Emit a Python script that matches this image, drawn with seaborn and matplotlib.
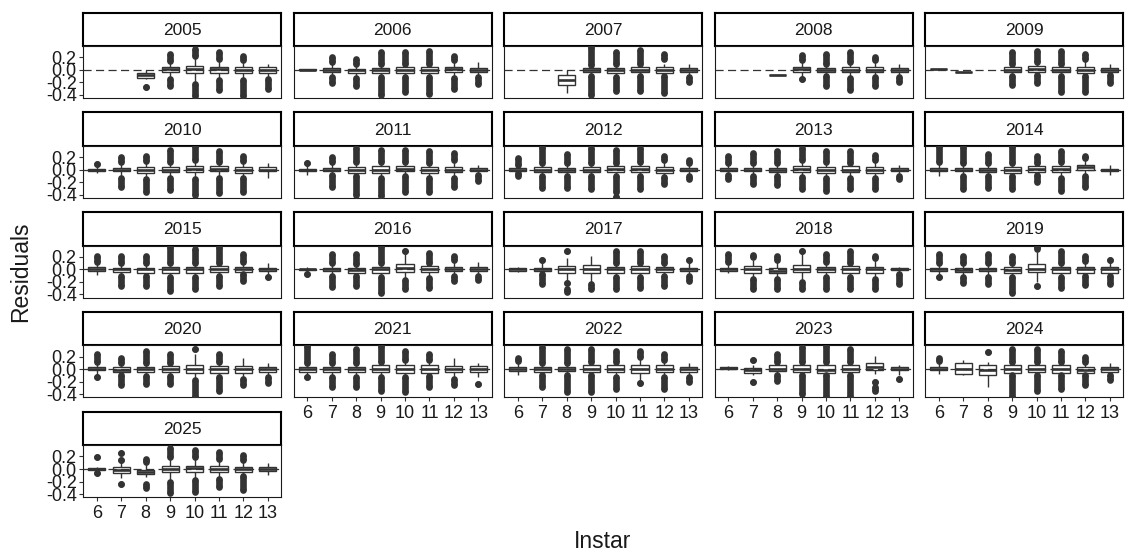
import matplotlib
matplotlib.use("Agg")
import pandas as pd
import matplotlib.pyplot as plt
import seaborn as sns

# --- Data ---
YEARS = list(range(2005, 2026))
INSTARS = [6, 7, 8, 9, 10, 11, 12, 13]

# box stats per instar: (lower whisker, q1, median, q3, upper whisker), None = no fish
b2005 = [None, None, (-0.14, -0.125, -0.09, -0.055, -0.01), (-0.12, -0.03, 0.01, 0.05, 0.12),
         (-0.2, -0.055, 0.01, 0.065, 0.2), (-0.15, -0.045, 0.005, 0.05, 0.15),
         (-0.15, -0.055, -0.005, 0.04, 0.13), (-0.12, -0.045, 0.0, 0.04, 0.09)]
b2006 = [(-0.01, -0.005, 0.0, 0.005, 0.01), (-0.09, -0.03, 0.0, 0.03, 0.09), (-0.11, -0.055, -0.01, 0.02, 0.07),
         (-0.1, -0.045, -0.005, 0.03, 0.08), (-0.1, -0.045, 0.0, 0.04, 0.08), (-0.1, -0.055, -0.01, 0.04, 0.08),
         (-0.11, -0.03, 0.01, 0.05, 0.12), (-0.09, -0.03, 0.0, 0.03, 0.12)]
b2007 = [None, None, (-0.37, -0.25, -0.155, -0.09, 0.0), (-0.08, -0.03, 0.0, 0.03, 0.05),
         (-0.09, -0.05, -0.01, 0.03, 0.08), (-0.08, -0.04, 0.0, 0.04, 0.08),
         (-0.08, -0.05, -0.01, 0.04, 0.1), (-0.09, -0.03, 0.0, 0.03, 0.1)]
b2008 = [None, None, (-0.09, -0.088, -0.085, -0.082, -0.08), (-0.1, -0.03, 0.01, 0.045, 0.12),
         (-0.08, -0.04, 0.0, 0.03, 0.08), (-0.11, -0.04, 0.0, 0.05, 0.1),
         (-0.1, -0.04, 0.0, 0.04, 0.12), (-0.09, -0.03, 0.0, 0.03, 0.1)]
b2009 = [(0.01, 0.012, 0.015, 0.018, 0.02), (-0.045, -0.042, -0.04, -0.038, -0.035), None,
         (-0.08, -0.04, 0.0, 0.04, 0.08), (-0.07, -0.03, 0.02, 0.055, 0.1), (-0.08, -0.04, 0.0, 0.045, 0.08),
         (-0.08, -0.05, 0.0, 0.05, 0.15), (-0.07, -0.03, 0.0, 0.03, 0.1)]
b2010 = [(-0.05, -0.015, 0.0, 0.015, 0.06), (-0.11, -0.03, 0.0, 0.03, 0.1), (-0.13, -0.055, 0.0, 0.04, 0.11),
         (-0.11, -0.045, 0.0, 0.04, 0.1), (-0.13, -0.045, 0.005, 0.055, 0.13), (-0.11, -0.03, 0.01, 0.055, 0.1),
         (-0.11, -0.055, 0.0, 0.04, 0.11), (-0.14, -0.03, 0.0, 0.04, 0.11)]
b2011 = [(-0.09, -0.015, 0.0, 0.015, 0.06), (-0.07, -0.03, 0.0, 0.03, 0.1), (-0.09, -0.055, 0.0, 0.04, 0.1),
         (-0.11, -0.055, 0.0, 0.05, 0.1), (-0.09, -0.03, 0.01, 0.055, 0.1), (-0.11, -0.055, 0.0, 0.04, 0.09),
         (-0.11, -0.045, 0.0, 0.04, 0.13), (-0.07, -0.03, 0.0, 0.03, 0.08)]
b2012 = [(-0.03, -0.02, 0.0, 0.02, 0.05), (-0.08, -0.04, 0.0, 0.04, 0.08), (-0.08, -0.04, 0.0, 0.03, 0.08),
         (-0.08, -0.04, 0.0, 0.04, 0.08), (-0.08, -0.04, 0.005, 0.05, 0.08), (-0.08, -0.04, 0.01, 0.055, 0.1),
         (-0.1, -0.05, -0.005, 0.04, 0.13), (-0.08, -0.03, 0.0, 0.03, 0.09)]
b2013 = [(-0.06, -0.02, 0.0, 0.03, 0.08), (-0.08, -0.03, 0.0, 0.03, 0.08), (-0.08, -0.04, 0.0, 0.03, 0.08),
         (-0.1, -0.04, 0.01, 0.06, 0.13), (-0.11, -0.05, 0.0, 0.04, 0.1), (-0.11, -0.04, 0.0, 0.05, 0.08),
         (-0.11, -0.05, 0.0, 0.04, 0.13), (-0.08, -0.02, 0.0, 0.02, 0.07)]
b2014 = [(-0.1, -0.02, 0.0, 0.03, 0.1), (-0.08, -0.03, 0.0, 0.03, 0.08), (-0.08, -0.04, -0.005, 0.03, 0.08),
         (-0.08, -0.05, 0.0, 0.04, 0.08), (-0.07, -0.04, 0.01, 0.055, 0.08), (-0.11, -0.04, 0.01, 0.055, 0.1),
         (-0.08, 0.0, 0.035, 0.07, 0.15), (-0.08, -0.015, 0.0, 0.015, 0.08)]
b2015 = [(-0.09, -0.02, 0.01, 0.04, 0.1), (-0.08, -0.04, 0.0, 0.03, 0.08), (-0.08, -0.05, 0.0, 0.03, 0.08),
         (-0.1, -0.05, 0.0, 0.04, 0.08), (-0.1, -0.05, 0.0, 0.04, 0.08), (-0.08, -0.04, 0.01, 0.055, 0.08),
         (-0.06, -0.04, 0.0, 0.04, 0.1), (-0.08, -0.02, 0.0, 0.03, 0.1)]
b2016 = [(-0.04, -0.01, 0.0, 0.01, 0.04), (-0.08, -0.03, 0.0, 0.03, 0.08), (-0.08, -0.05, -0.01, 0.03, 0.06),
         (-0.1, -0.05, 0.0, 0.04, 0.08), (-0.15, -0.04, 0.02, 0.08, 0.26), (-0.11, -0.04, 0.0, 0.05, 0.08),
         (-0.08, -0.03, 0.0, 0.04, 0.13), (-0.08, -0.02, 0.0, 0.04, 0.12)]
b2017 = [(-0.04, -0.02, 0.0, 0.02, 0.04), (-0.06, -0.03, 0.0, 0.03, 0.1), (-0.17, -0.065, 0.0, 0.06, 0.19),
         (-0.2, -0.05, 0.01, 0.07, 0.22), (-0.1, -0.05, 0.0, 0.04, 0.08), (-0.1, -0.05, 0.0, 0.05, 0.08),
         (-0.08, -0.04, 0.0, 0.04, 0.08), (-0.08, -0.02, 0.0, 0.03, 0.1)]
b2018 = [(-0.06, -0.02, 0.0, 0.03, 0.1), (-0.13, -0.05, 0.0, 0.055, 0.15), (-0.13, -0.065, -0.02, 0.015, 0.13),
         (-0.18, -0.04, 0.01, 0.07, 0.26), (-0.1, -0.04, 0.0, 0.04, 0.1), (-0.1, -0.05, 0.0, 0.05, 0.08),
         (-0.13, -0.05, 0.0, 0.04, 0.15), (-0.06, -0.01, 0.0, 0.025, 0.04)]
b2019 = [(-0.1, -0.02, 0.0, 0.03, 0.08), (-0.1, -0.04, -0.01, 0.03, 0.08), (-0.1, -0.03, 0.0, 0.03, 0.08),
         (-0.1, -0.05, -0.005, 0.04, 0.08), (-0.2, -0.04, 0.01, 0.08, 0.28), (-0.1, -0.05, 0.0, 0.04, 0.08),
         (-0.1, -0.05, 0.0, 0.04, 0.11), (-0.1, -0.05, 0.0, 0.04, 0.13)]
b2020 = [(-0.1, -0.02, 0.0, 0.03, 0.1), (-0.08, -0.04, -0.01, 0.03, 0.08), (-0.1, -0.04, 0.0, 0.04, 0.08),
         (-0.1, -0.04, 0.0, 0.05, 0.08), (-0.16, -0.055, 0.005, 0.07, 0.24), (-0.1, -0.055, 0.0, 0.05, 0.1),
         (-0.13, -0.055, 0.0, 0.05, 0.18), (-0.1, -0.045, 0.0, 0.04, 0.1)]
b2021 = [(-0.09, -0.04, 0.0, 0.04, 0.08), (-0.1, -0.045, 0.0, 0.04, 0.08), (-0.1, -0.04, 0.0, 0.04, 0.08),
         (-0.1, -0.04, 0.01, 0.06, 0.1), (-0.1, -0.055, 0.0, 0.06, 0.13), (-0.1, -0.055, 0.0, 0.06, 0.13),
         (-0.13, -0.045, 0.0, 0.055, 0.18), (-0.12, -0.04, 0.0, 0.055, 0.1)]
b2022 = [(-0.09, -0.03, 0.0, 0.03, 0.1), (-0.09, -0.04, 0.0, 0.04, 0.08), (-0.08, -0.03, 0.0, 0.04, 0.08),
         (-0.08, -0.045, 0.0, 0.06, 0.1), (-0.1, -0.045, 0.0, 0.06, 0.1), (-0.2, -0.055, 0.01, 0.07, 0.18),
         (-0.1, -0.045, 0.0, 0.06, 0.13), (-0.1, -0.04, 0.0, 0.04, 0.1)]
b2023 = [(-0.01, 0.0, 0.02, 0.04, 0.05), (-0.1, -0.065, -0.02, 0.015, 0.07), (-0.1, -0.035, 0.01, 0.06, 0.1),
         (-0.07, -0.045, 0.0, 0.06, 0.1), (-0.07, -0.055, -0.01, 0.06, 0.1), (-0.07, -0.045, 0.01, 0.07, 0.1),
         (-0.07, -0.02, 0.04, 0.1, 0.21), (-0.1, -0.02, 0.0, 0.04, 0.07)]
b2024 = [(-0.07, -0.02, 0.0, 0.03, 0.1), (-0.09, -0.08, 0.01, 0.1, 0.15), (-0.29, -0.09, -0.02, 0.07, 0.12),
         (-0.07, -0.055, 0.0, 0.06, 0.1), (-0.07, -0.045, 0.005, 0.06, 0.1), (-0.09, -0.055, 0.0, 0.06, 0.1),
         (-0.09, -0.055, -0.01, 0.04, 0.1), (-0.07, -0.04, 0.0, 0.04, 0.1)]
b2025 = [(-0.03, -0.015, 0.0, 0.015, 0.03), (-0.15, -0.07, -0.02, 0.03, 0.1), (-0.12, -0.08, -0.04, -0.015, 0.08),
         (-0.17, -0.055, 0.0, 0.055, 0.16), (-0.15, -0.055, 0.01, 0.055, 0.16), (-0.14, -0.055, 0.0, 0.055, 0.13),
         (-0.09, -0.04, 0.0, 0.035, 0.11), (-0.1, -0.025, 0.0, 0.025, 0.09)]

# outliers per instar: runs of stacked points (first, last); a single point has first == last
o2005 = [[], [], [(-0.27, -0.27)], [(0.14, 0.26), (-0.14, -0.26)], [(0.22, 0.34), (-0.22, -0.42)],
         [(0.17, 0.29), (-0.17, -0.33)], [(0.16, 0.22), (-0.17, -0.42)], [(-0.14, -0.3)]]
o2006 = [[], [(0.12, 0.2), (-0.11, -0.21)], [(0.09, 0.17), (-0.13, -0.26)], [(0.1, 0.29), (-0.12, -0.4)],
         [(0.1, 0.28), (-0.12, -0.35)], [(0.1, 0.3), (-0.12, -0.38)], [(0.15, 0.22), (-0.13, -0.3)], [(-0.12, -0.22)]]
o2007 = [[], [], [], [(0.07, 0.37), (-0.1, -0.4)], [(0.1, 0.29), (-0.11, -0.34)],
         [(0.1, 0.31), (-0.1, -0.34)], [(0.17, 0.26), (-0.1, -0.37)], [(-0.12, -0.2)]]
o2008 = [[], [], [], [(0.15, 0.23), (-0.15, -0.15)], [(0.1, 0.26), (-0.1, -0.26)],
         [(0.12, 0.29), (-0.13, -0.32)], [(0.15, 0.2), (-0.12, -0.26)], [(-0.12, -0.2)]]
o2009 = [[], [], [], [(0.1, 0.29), (-0.1, -0.24)], [(0.12, 0.3), (-0.09, -0.21)],
         [(0.1, 0.3), (-0.1, -0.35)], [(0.17, 0.26), (-0.1, -0.35)], [(-0.09, -0.21)]]
o2010 = [[(0.09, 0.09)], [(0.12, 0.2), (-0.13, -0.27)], [(0.13, 0.22), (-0.15, -0.35)], [(0.12, 0.31), (-0.13, -0.32)],
         [(0.15, 0.37), (-0.15, -0.4)], [(0.12, 0.3), (-0.13, -0.37)], [(0.13, 0.22), (-0.13, -0.35)], []]
o2011 = [[(0.11, 0.11)], [(0.12, 0.2), (-0.09, -0.27)], [(0.12, 0.35), (-0.11, -0.4)], [(0.12, 0.31), (-0.13, -0.42)],
         [(0.12, 0.31), (-0.11, -0.35)], [(0.11, 0.29), (-0.13, -0.35)], [(0.15, 0.26), (-0.13, -0.27)], [(-0.09, -0.18)]]
o2012 = [[(0.07, 0.19), (-0.05, -0.1)], [(0.1, 0.36), (-0.1, -0.29)], [(0.1, 0.25), (-0.1, -0.29)],
         [(0.1, 0.35), (-0.1, -0.31)], [(0.1, 0.32), (-0.1, -0.36), (-0.43, -0.43)], [(0.12, 0.35), (-0.1, -0.31)],
         [(0.15, 0.22), (-0.12, -0.23)], [(0.11, 0.15), (-0.1, -0.15)]]
o2013 = [[(0.1, 0.21), (-0.08, -0.15)], [(0.1, 0.26), (-0.1, -0.23)], [(0.1, 0.29), (-0.1, -0.25)],
         [(0.15, 0.35), (-0.12, -0.31)], [(0.12, 0.29), (-0.13, -0.34)], [(0.1, 0.29), (-0.13, -0.31)],
         [(0.15, 0.23), (-0.13, -0.31)], [(-0.1, -0.15)]]
o2014 = [[(0.12, 0.37)], [(0.1, 0.36), (-0.1, -0.31)], [(0.1, 0.25), (-0.1, -0.29)], [(0.1, 0.37), (-0.1, -0.31)],
         [(0.1, 0.22), (-0.09, -0.2)], [(0.12, 0.29), (-0.13, -0.34)], [(0.18, 0.22), (-0.1, -0.27)], []]
o2015 = [[(0.12, 0.21)], [(0.1, 0.21), (-0.1, -0.27)], [(0.1, 0.21), (-0.1, -0.27)], [(0.1, 0.35), (-0.12, -0.34)],
         [(0.1, 0.32), (-0.12, -0.31)], [(0.1, 0.35), (-0.1, -0.26)], [(0.12, 0.25), (-0.08, -0.18)], [(-0.12, -0.12)]]
o2016 = [[(-0.08, -0.08)], [(0.1, 0.24), (-0.1, -0.28)], [(0.08, 0.25), (-0.1, -0.26)], [(0.1, 0.37), (-0.12, -0.37)],
         [(0.29, 0.29), (-0.17, -0.31)], [(0.1, 0.26), (-0.13, -0.3)], [(0.15, 0.22), (-0.1, -0.19)], [(-0.1, -0.17)]]
o2017 = [[], [(0.15, 0.15), (-0.08, -0.23)], [(0.3, 0.3), (-0.22, -0.22), (-0.31, -0.36)], [(-0.23, -0.31)],
         [(0.1, 0.29), (-0.12, -0.31)], [(0.1, 0.29), (-0.12, -0.29)], [(0.1, 0.22), (-0.1, -0.27)],
         [(0.15, 0.15), (-0.1, -0.18)]]
o2018 = [[(0.12, 0.24)], [(0.2, 0.23), (-0.15, -0.31)], [(0.15, 0.21), (-0.15, -0.31)], [(0.3, 0.3), (-0.2, -0.32)],
         [(0.12, 0.24), (-0.12, -0.31)], [(0.1, 0.29), (-0.12, -0.31)], [(0.18, 0.22), (-0.15, -0.31)],
         [(-0.08, -0.23)]]
o2019 = [[(0.1, 0.24), (-0.12, -0.12)], [(0.1, 0.22), (-0.12, -0.21)], [(0.1, 0.25), (-0.12, -0.23)],
         [(0.1, 0.22), (-0.12, -0.37)], [(0.32, 0.37), (-0.27, -0.27)], [(0.1, 0.29), (-0.12, -0.3)],
         [(0.13, 0.22), (-0.1, -0.25)], [(0.15, 0.15), (-0.1, -0.23)]]
o2020 = [[(0.12, 0.24), (-0.12, -0.12)], [(0.1, 0.18), (-0.1, -0.26)], [(0.1, 0.29), (-0.11, -0.24)],
         [(0.1, 0.24), (-0.11, -0.24)], [(0.32, 0.32), (-0.18, -0.44)], [(0.12, 0.25), (-0.12, -0.34)],
         [(-0.15, -0.26)], [(-0.12, -0.22)]]
o2021 = [[(0.1, 0.37), (-0.12, -0.12)], [(0.1, 0.24), (-0.12, -0.29)], [(0.1, 0.32), (-0.12, -0.28)],
         [(0.12, 0.37), (-0.12, -0.34)], [(0.15, 0.29), (-0.12, -0.37)], [(0.15, 0.25), (-0.11, -0.29)],
         [(-0.15, -0.26)], [(-0.24, -0.24)]]
o2022 = [[(0.13, 0.18)], [(0.1, 0.35), (-0.09, -0.29)], [(0.1, 0.32), (-0.09, -0.37)], [(0.12, 0.32), (-0.09, -0.37)],
         [(0.12, 0.29), (-0.12, -0.31)], [(0.2, 0.29), (-0.22, -0.22)], [(0.15, 0.25), (-0.12, -0.31)],
         [(-0.12, -0.2)]]
o2023 = [[], [(0.15, 0.15), (-0.2, -0.2)], [(0.12, 0.25), (-0.09, -0.19)], [(0.12, 0.35), (-0.09, -0.4)],
         [(0.12, 0.37), (-0.09, -0.44)], [(0.12, 0.32), (-0.09, -0.44)], [(-0.2, -0.2), (-0.29, -0.34)],
         [(-0.15, -0.15)]]
o2024 = [[(0.13, 0.18)], [], [(0.27, 0.27)], [(0.12, 0.32), (-0.09, -0.44)], [(0.12, 0.32), (-0.09, -0.35)],
         [(0.12, 0.29), (-0.09, -0.31)], [(0.12, 0.2), (-0.09, -0.26)], [(-0.09, -0.18)]]
o2025 = [[(0.19, 0.19), (-0.07, -0.07)], [(0.15, 0.15), (0.25, 0.25), (-0.24, -0.24)], [(0.11, 0.16), (-0.24, -0.31)],
         [(0.19, 0.33), (-0.2, -0.38)], [(0.19, 0.3), (-0.17, -0.36)], [(0.16, 0.27), (-0.16, -0.29)],
         [(0.14, 0.22), (-0.11, -0.33)], []]

BOXES = dict(zip(YEARS, [b2005, b2006, b2007, b2008, b2009, b2010, b2011, b2012, b2013, b2014, b2015,
                         b2016, b2017, b2018, b2019, b2020, b2021, b2022, b2023, b2024, b2025]))
OUTLIERS = dict(zip(YEARS, [o2005, o2006, o2007, o2008, o2009, o2010, o2011, o2012, o2013, o2014, o2015,
                            o2016, o2017, o2018, o2019, o2020, o2021, o2022, o2023, o2024, o2025]))

YTICKS = [-0.4, -0.2, 0.0, 0.2]
YTICK_LABELS = ["-0.4", "-0.2", "0.0", "0.2"]

# --- Style ---
sns.set_style("white")
plt.rcParams["font.family"] = ["Liberation Sans", "DejaVu Sans"]
plt.rcParams["axes.unicode_minus"] = False

DARK = "#333333"
TEXT = "#1a1a1a"
W, H = 1129, 556
NCOL = 5
DOT = 4.8  # outlier point diameter, pt


def px_rect(left, top, w, h):
    return [left / W, 1 - (top + h) / H, w / W, h / H]


fig = plt.figure(figsize=(W / 100, H / 100), dpi=100)

for k, year in enumerate(YEARS):
    r, c = divmod(k, NCOL)
    left = 83.3 + 210.5 * c
    top = 12.5 + 99.8 * r

    # strip
    sax = fig.add_axes(px_rect(left, top, 198, 33.5))
    sax.set_xticks([])
    sax.set_yticks([])
    sax.set_facecolor("white")
    for sp in sax.spines.values():
        sp.set_color("black")
        sp.set_linewidth(1.5)
    sax.text(0.5, 0.47, str(year), ha="center", va="center", fontsize=12.5,
             color=TEXT, transform=sax.transAxes)

    # panel
    ax = fig.add_axes(px_rect(left, top + 33.5, 198, 52))
    rows = []
    for inst, stats in zip(INSTARS, BOXES[year]):
        if stats is None:
            continue
        for v in stats:
            rows.append((inst, v))
    df = pd.DataFrame(rows, columns=["instar", "residual"])
    sns.boxplot(data=df, x="instar", y="residual", order=INSTARS, whis=(0, 100),
                showfliers=False, showcaps=False, width=0.7, color="white",
                linecolor=DARK, linewidth=1.0, medianprops=dict(linewidth=1.9), ax=ax)

    pts, seg_x, seg_a, seg_b = [], [], [], []
    for i, runs in enumerate(OUTLIERS[year]):
        for a, b in runs:
            pts += [(INSTARS[i], a), (INSTARS[i], b)]
            if a != b:
                seg_x.append(i)
                seg_a.append(a)
                seg_b.append(b)
    if seg_x:
        ax.vlines(seg_x, seg_a, seg_b, color=DARK, linewidth=DOT, zorder=2)
    if pts:
        dfo = pd.DataFrame(pts, columns=["instar", "residual"])
        sns.stripplot(data=dfo, x="instar", y="residual", order=INSTARS, jitter=False,
                      size=DOT, color=DARK, linewidth=0, ax=ax, zorder=3)

    ax.axhline(0, color=DARK, linewidth=0.9, linestyle=(0, (6.5, 3.5)), zorder=5)
    ax.set_xlim(-0.55, 7.55)
    ax.set_ylim(-0.45, 0.38)
    ax.set_xlabel("")
    ax.set_ylabel("")
    for sp in ax.spines.values():
        sp.set_visible(True)
        sp.set_color(TEXT)
        sp.set_linewidth(0.8)

    ax.tick_params(direction="out", length=2.8, width=0.8, color=DARK,
                   labelsize=13, labelcolor=TEXT, pad=2.5)
    if c == 0:
        ax.set_yticks(YTICKS)
        ax.set_yticklabels(YTICK_LABELS)
        ax.tick_params(axis="y", left=True, pad=2)
    else:
        ax.set_yticks([])
    if k + NCOL >= len(YEARS):
        ax.set_xticks(range(len(INSTARS)))
        ax.set_xticklabels([str(i) for i in INSTARS])
        ax.tick_params(axis="x", bottom=True, pad=3)
    else:
        ax.set_xticks([])

fig.text(21 / W, 1 - 272 / H, "Residuals", rotation=90, ha="center", va="center",
         fontsize=16.5, color=TEXT)
fig.text(603 / W, 1 - 541 / H, "Instar", ha="center", va="center", fontsize=16.5, color=TEXT)

fig.savefig("out.png", dpi=100)
